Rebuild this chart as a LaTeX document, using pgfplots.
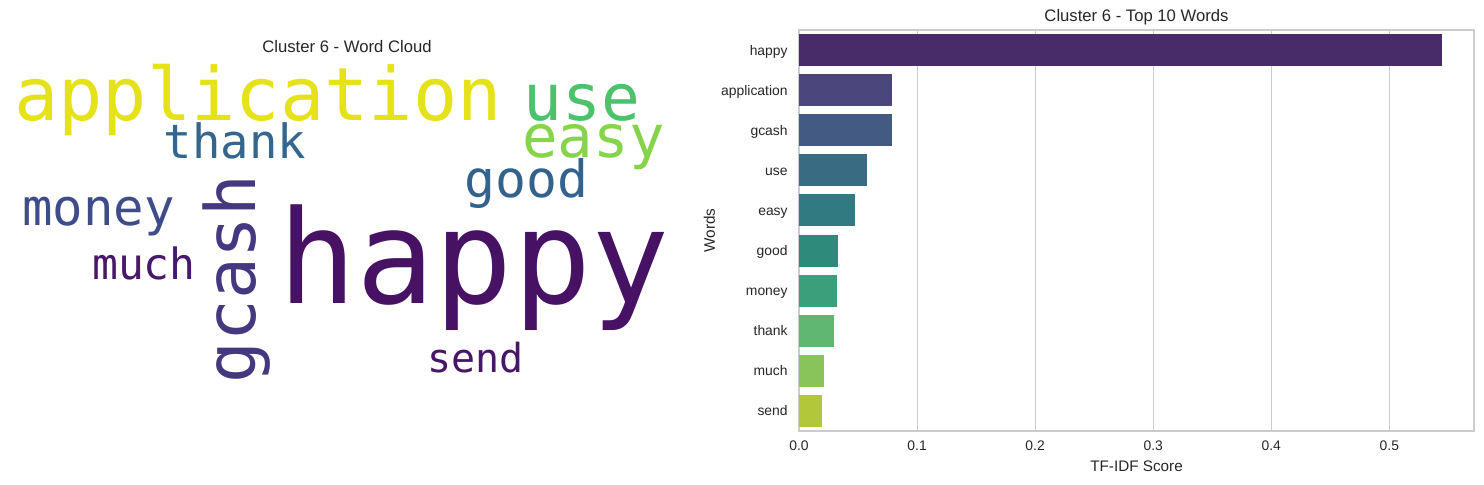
\documentclass[border=0pt]{standalone}
\usepackage{pgfplots}
\pgfplotsset{compat=1.18}
\usepackage{fontspec}
\setmainfont{Liberation Sans}
\newfontfamily\wcfont{DejaVu Sans Mono}
\definecolor{txt}{HTML}{262626}
\definecolor{gridc}{HTML}{CCCCCC}
\definecolor{c0}{HTML}{482B69}
\definecolor{c1}{HTML}{4B477C}
\definecolor{c2}{HTML}{435A82}
\definecolor{c3}{HTML}{396B82}
\definecolor{c4}{HTML}{327A81}
\definecolor{c5}{HTML}{2E8B7C}
\definecolor{c6}{HTML}{3B9F7B}
\definecolor{c7}{HTML}{60B772}
\definecolor{c8}{HTML}{88C45A}
\definecolor{c9}{HTML}{B2C83A}
\definecolor{wApp}{HTML}{E5E21A}
\definecolor{wUse}{HTML}{4CC26C}
\definecolor{wEasy}{HTML}{86D44B}
\definecolor{wThank}{HTML}{35668D}
\definecolor{wGood}{HTML}{33638D}
\definecolor{wMoney}{HTML}{3E4C8A}
\definecolor{wGcash}{HTML}{45387F}
\definecolor{wMuch}{HTML}{48186A}
\definecolor{wSend}{HTML}{481667}
\definecolor{wHappy}{HTML}{471164}
\begin{document}
\begin{tikzpicture}
\useasboundingbox (0,0) rectangle (1068.48pt,348.48pt);
% ---------- word cloud ----------
\begin{axis}[
  at={(0pt,0pt)}, anchor=south west,
  width=504pt, height=348.48pt, scale only axis,
  xmin=0, xmax=700, ymin=0, ymax=484, y dir=reverse,
  hide axis, clip=false]
\node[anchor=base, inner sep=0pt, text=txt, font=\fontsize{12}{14}\selectfont] at (axis cs:347,52.7) {Cluster 6 - Word Cloud};
\node[anchor=base, inner sep=0pt, text=wApp, font=\wcfont\fontsize{53}{58}\selectfont] at (axis cs:258,120) {application};
\node[anchor=base, inner sep=0pt, text=wUse, font=\wcfont\fontsize{46.5}{52}\selectfont] at (axis cs:582,120) {use};
\node[anchor=base, inner sep=0pt, text=wEasy, font=\wcfont\fontsize{42.5}{48}\selectfont] at (axis cs:593.5,157) {easy};
\node[anchor=base, inner sep=0pt, text=wThank, font=\wcfont\fontsize{34}{40}\selectfont] at (axis cs:235,158) {thank};
\node[anchor=base, inner sep=0pt, text=wGood, font=\wcfont\fontsize{37}{42}\selectfont] at (axis cs:526.5,197) {good};
\node[anchor=base, inner sep=0pt, text=wMoney, font=\wcfont\fontsize{36.5}{42}\selectfont] at (axis cs:98.5,225) {money};
\node[anchor=base, inner sep=0pt, text=wMuch, font=\wcfont\fontsize{31}{36}\selectfont] at (axis cs:144,279) {much};
\node[anchor=base, inner sep=0pt, text=wSend, font=\wcfont\fontsize{28.8}{33}\selectfont] at (axis cs:475.5,372) {send};
\node[anchor=base, inner sep=0pt, text=wHappy, font=\wcfont\fontsize{93.6}{100}\selectfont] at (axis cs:474,303) {happy};
\node[anchor=base, inner sep=0pt, rotate=90, text=wGcash, font=\wcfont\fontsize{50}{55}\selectfont] at (axis cs:256,279) {gcash};
\end{axis}
% ---------- bar chart ----------
\begin{axis}[
  at={(575.28pt,38.16pt)}, anchor=south west,
  width=486pt, height=288.72pt, scale only axis,
  xbar, bar shift=0pt, bar width=23.04pt,
  xmin=0, xmax=0.5717, ymin=-0.5, ymax=9.5, y dir=reverse,
  ytick={0,1,2,3,4,5,6,7,8,9},
  yticklabels={happy,application,gcash,use,easy,good,money,thank,much,send},
  xtick={0,0.1,0.2,0.3,0.4,0.5},
  xticklabels={0.0,0.1,0.2,0.3,0.4,0.5},
  major tick length=0pt,
  xmajorgrids, ymajorgrids=false,
  major grid style={draw=gridc, line width=0.8pt},
  axis line style={draw=gridc, line width=1.25pt},
  tick label style={text=txt, font=\fontsize{10}{12}\selectfont},
  yticklabel style={anchor=base east, inner sep=0pt, xshift=-8pt, yshift=-3.6pt},
  xticklabel style={anchor=north, inner sep=0pt, yshift=-7pt},
  /pgf/number format/assume math mode=true,
  title={Cluster 6 - Top 10 Words},
  title style={at={(axis description cs:0.5,1)}, anchor=base, inner sep=0pt, text=txt, font=\fontsize{12}{14}\selectfont},
  xlabel={TF-IDF Score},
  xlabel style={at={(axis description cs:0.5,-0.0998)}, anchor=base, inner sep=0pt, text=txt, font=\fontsize{11}{13}\selectfont},
  ylabel={Words},
  ylabel style={at={(axis description cs:-0.1245,0.5)}, anchor=base, inner sep=0pt, text=txt, font=\fontsize{11}{13}\selectfont},
]
\addplot[draw=none, fill=c0] coordinates {(0.5443,0)};
\addplot[draw=none, fill=c1] coordinates {(0.0788,1)};
\addplot[draw=none, fill=c2] coordinates {(0.0788,2)};
\addplot[draw=none, fill=c3] coordinates {(0.0574,3)};
\addplot[draw=none, fill=c4] coordinates {(0.0475,4)};
\addplot[draw=none, fill=c5] coordinates {(0.0330,5)};
\addplot[draw=none, fill=c6] coordinates {(0.0319,6)};
\addplot[draw=none, fill=c7] coordinates {(0.0297,7)};
\addplot[draw=none, fill=c8] coordinates {(0.0212,8)};
\addplot[draw=none, fill=c9] coordinates {(0.0195,9)};
\end{axis}
\end{tikzpicture}
\end{document}
